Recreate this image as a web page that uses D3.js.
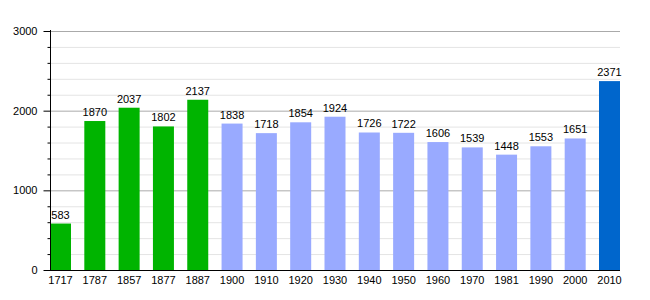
<!DOCTYPE html>
<html><head><meta charset="utf-8">
<script src="https://cdnjs.cloudflare.com/ajax/libs/d3/7.8.5/d3.min.js"></script>
<style>body{margin:0;background:#fff}svg{display:block}text{font-family:"Liberation Sans",Arial,sans-serif;font-size:11px;fill:#000}</style>
</head><body><svg id="c" width="650" height="300"></svg>
<script>
const years = ["1717","1787","1857","1877","1887","1900","1910","1920","1930","1940","1950","1960","1970","1981","1990","2000","2010"];
const population = [583,1870,2037,1802,2137,1838,1718,1854,1924,1726,1722,1606,1539,1448,1553,1651,2371];
const barColors = ["#00b400","#00b400","#00b400","#00b400","#00b400","#99aaff","#99aaff","#99aaff","#99aaff","#99aaff","#99aaff","#99aaff","#99aaff","#99aaff","#99aaff","#99aaff","#0066cc"];
const majorTicks = [0,1000,2000,3000];
const minorTicks = d3.range(0,3001,200);

(function(){
const svg = d3.select("#c");
const pL=50, pR=620, pT=31, pB=270;
const x = d3.scaleBand().domain(years).range([pL,pR]).paddingInner(0.388).paddingOuter(0);
const y = d3.scaleLinear().domain([0,3000]).range([pB,pT]);

// grid
svg.append("g").selectAll("line").data(minorTicks.filter(v=>v%1000!==0)).join("line")
  .attr("x1",pL).attr("x2",pR).attr("y1",d=>y(d)+0.5).attr("y2",d=>y(d)+0.5)
  .attr("stroke","#e4e4e4").attr("stroke-width",1);
svg.append("g").selectAll("line").data(majorTicks.filter(v=>v>0)).join("line")
  .attr("x1",pL).attr("x2",pR).attr("y1",d=>y(d)+0.5).attr("y2",d=>y(d)+0.5)
  .attr("stroke","#aaaaaa").attr("stroke-width",1);

// bars
svg.append("g").selectAll("rect").data(population).join("rect")
  .attr("x",(d,i)=>x(years[i])).attr("width",x.bandwidth())
  .attr("y",d=>y(d)).attr("height",d=>pB-y(d))
  .attr("fill",(d,i)=>barColors[i]);

// value labels
svg.append("g").selectAll("text").data(population).join("text")
  .attr("x",(d,i)=>x(years[i])+x.bandwidth()/2).attr("y",d=>y(d)-5)
  .attr("text-anchor","middle").text(d=>d);

// y axis
const ya = svg.append("g").attr("transform",`translate(${pL+0.5},0)`);
ya.append("g").call(d3.axisLeft(y).tickValues(minorTicks.filter(v=>v%1000!==0)).tickSize(3).tickFormat(""))
  .call(g=>g.select(".domain").remove());
ya.append("g").call(d3.axisLeft(y).tickValues(majorTicks).tickSize(7).tickPadding(6).tickFormat(d3.format("d")))
  .call(g=>g.select(".domain").attr("d",`M0,${pT-1}V${pB}`).attr("stroke","#000"));
ya.selectAll("line").attr("stroke","#000");
ya.selectAll("text").attr("font-family",null).attr("font-size",null).attr("fill","#000");

// x axis
const xa = svg.append("g").attr("transform",`translate(0,${pB+0.5})`)
  .call(d3.axisBottom(x).tickSize(0).tickPadding(6));
xa.select(".domain").attr("d",`M${pL},0H${pR}`).attr("stroke","#000");
xa.selectAll("text").attr("font-family",null).attr("font-size",null).attr("fill","#000");
})();
</script></body></html>
